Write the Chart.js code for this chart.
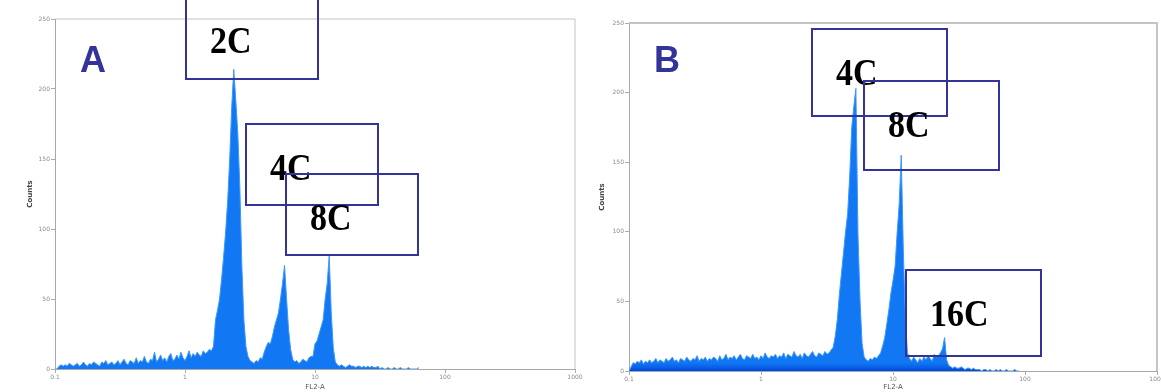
<!DOCTYPE html>
<html>
<head>
<meta charset="utf-8">
<script src="https://cdn.jsdelivr.net/npm/chart.js@4.4.1/dist/chart.umd.min.js"></script>
<style>
  html, body { margin: 0; padding: 0; background: #fff; }
  body { width: 1161px; height: 392px; position: relative; overflow: hidden; }
  .panel { position: absolute; top: 0; }
  #wrapA { left: 0; }
  #wrapB { left: 590px; }
</style>
</head>
<body>
<div class="panel" id="wrapA"><canvas id="chartA" width="590" height="392"></canvas></div>
<div class="panel" id="wrapB"><canvas id="chartB" width="571" height="392"></canvas></div>
<script>
// log channels: 64 channels per decade, 0.1 .. 1000
const decadeChannels = [0, 64, 128, 192, 256]
const xTickLabels = ['0.1', '1', '10', '100', '1000']
const yTickValues = [0, 50, 100, 150, 200, 250]

// panel A counts per channel
const countsA = [
  0, 0, 2, 3, 2, 3, 2, 4, 3, 2,
  3, 4, 2, 3, 5, 3, 2, 4, 3, 5,
  4, 3, 2, 5, 4, 6, 3, 4, 5, 3,
  4, 6, 3, 5, 7, 4, 3, 6, 5, 4,
  8, 4, 6, 5, 9, 5, 4, 7, 6, 12,
  5, 7, 10, 6, 8, 5, 9, 11, 6, 7,
  10, 7, 12, 8, 6, 9, 13, 8, 11, 9,
  12, 10, 9, 13, 11, 12, 14, 13, 16, 35,
  42, 50, 64, 80, 98, 120, 150, 187, 214, 192,
  168, 130, 73, 35, 16, 9, 6, 5, 4, 6,
  5, 8, 7, 12, 16, 19, 18, 23, 30, 35,
  40, 50, 61, 74, 50, 28, 14, 7, 5, 6,
  4, 5, 7, 6, 5, 8, 9, 9, 18, 20,
  25, 30, 35, 50, 61, 81, 40, 15, 5, 3,
  2, 3, 2, 1, 2, 3, 2, 2, 1, 2,
  2, 1, 2, 1, 2, 1, 2, 1, 1, 2,
  0, 1, 0, 0, 1, 0, 0, 1, 0, 0,
  1, 0, 0, 0, 1, 0, 0, 0, 0, 1
]

// panel B counts per channel
const countsB = [
  0, 3, 6, 5, 7, 6, 8, 5, 7, 6,
  8, 6, 7, 9, 6, 8, 7, 6, 9, 7,
  8, 10, 7, 8, 6, 9, 8, 7, 10, 8,
  7, 9, 8, 11, 7, 9, 8, 10, 7, 9,
  8, 10, 9, 7, 11, 8, 9, 12, 8, 10,
  9, 11, 8, 10, 12, 9, 8, 11, 10, 9,
  12, 9, 10, 8, 11, 9, 13, 10, 9, 11,
  10, 12, 9, 11, 10, 13, 9, 12, 11, 10,
  14, 11, 10, 12, 9, 13, 11, 10, 12, 14,
  11, 10, 13, 12, 11, 14, 12, 13, 15, 17,
  25, 37, 55, 70, 85, 100, 113, 140, 175, 190,
  203, 99, 51, 20, 10, 8, 7, 9, 8, 10,
  9, 11, 13, 18, 24, 34, 44, 56, 65, 75,
  99, 120, 155, 87, 37, 13, 9, 7, 10, 8,
  6, 9, 7, 10, 8, 11, 9, 7, 12, 10,
  11, 13, 16, 24, 8, 4, 3, 2, 3, 2,
  2, 3, 2, 1, 2, 2, 1, 2, 1, 1,
  1, 0, 1, 1, 0, 1, 0, 0, 1, 0,
  1, 0, 0, 1, 0, 0, 0, 1, 0, 0
]

// gates (channel range, count range)
const gateLabelsA = ['2C', '4C', '8C']
const gateChannelsA = [[64.5, 129.5], [94, 159], [113.7, 178.7]]
const gateCountsA = [[207, 285], [117, 175], [81.4, 139]]

const gateLabelsB = ['4C', '8C', '16C']
const gateChannelsB = [[88.7, 154.2], [113.9, 179.4], [134.3, 199.8]]
const gateCountsB = [[183.2, 245.7], [144.4, 208.3], [10.8, 72.6]]

const gateColor = '#33339a'

const gatesPlugin = {
  id: 'gates',
  afterDatasetsDraw (chart, args, opts) {
    const { ctx, scales: { x, y }, chartArea } = chart
    ctx.save()
    // frame top + right
    ctx.strokeStyle = '#c4c4c4'
    ctx.lineWidth = opts.frameWidth
    ctx.beginPath()
    ctx.moveTo(chartArea.left, chartArea.top)
    ctx.lineTo(chartArea.right, chartArea.top)
    ctx.lineTo(chartArea.right, chartArea.bottom)
    ctx.stroke()

    opts.labels.forEach((label, i) => {
      const l = x.getPixelForValue(opts.channels[i][0])
      const r = x.getPixelForValue(opts.channels[i][1])
      const t = y.getPixelForValue(opts.counts[i][1])
      const b = y.getPixelForValue(opts.counts[i][0])
      ctx.strokeStyle = gateColor
      ctx.lineWidth = 2
      ctx.strokeRect(Math.round(l), Math.round(t), Math.round(r - l), Math.round(b - t))
      const textTop = opts.counts[i][1] > 250 ? y.getPixelForValue(266) : t
      ctx.save()
      ctx.fillStyle = '#000'
      ctx.font = 'bold 34px "Liberation Serif", "Times New Roman", serif'
      ctx.textBaseline = 'alphabetic'
      ctx.translate(l + 24, textTop + 56)
      ctx.scale(1, 1.12)
      ctx.fillText(label, 0, 0)
      ctx.restore()
    })

    ctx.fillStyle = gateColor
    ctx.font = 'bold 36px "Liberation Sans", Arial, sans-serif'
    ctx.textBaseline = 'alphabetic'
    ctx.fillText(opts.letter, chartArea.left + 25, opts.letterY)
    ctx.restore()
  }
}

function makeChart (id, counts, gateOpts, layout) {
  const ctx = document.getElementById(id).getContext('2d')
  return new Chart(ctx, {
    type: 'line',
    data: {
      datasets: [{
        data: counts.map((c, i) => ({ x: i, y: c })),
        borderColor: '#3a98ff',
        borderWidth: 1,
        backgroundColor: (c) => {
          const area = c.chart.chartArea
          if (!area || !layout.darkBase) return '#1177f2'
          const g = c.chart.ctx.createLinearGradient(0, area.bottom, 0, area.bottom - 8)
          g.addColorStop(0, '#0046dc')
          g.addColorStop(0.45, '#0a5fe8')
          g.addColorStop(1, '#1177f2')
          return g
        },
        fill: 'origin',
        pointRadius: 0,
        tension: 0
      }]
    },
    options: {
      responsive: false,
      animation: false,
      devicePixelRatio: 1,
      layout: { padding: layout.padding },
      plugins: {
        legend: { display: false },
        tooltip: { enabled: false },
        gates: gateOpts
      },
      scales: {
        x: {
          type: 'linear',
          min: 0,
          max: 256,
          afterBuildTicks: s => { s.ticks = decadeChannels.map(v => ({ value: v })) },
          afterFit: s => { s.height = layout.xHeight; s.paddingRight = 0; s.paddingLeft = 0 },
          ticks: {
            autoSkip: false,
            maxRotation: 0,
            padding: 1,
            color: '#8a8a8a',
            font: { size: 6, family: 'DejaVu Sans' },
            callback: (v, i) => xTickLabels[i]
          },
          grid: { drawOnChartArea: false, tickLength: 4, color: '#aaa' },
          border: { color: '#a8a8a8', width: 1 },
          title: {
            display: true,
            text: 'FL2-A',
            color: '#555',
            font: { size: 7, family: 'DejaVu Sans' },
            padding: { top: 0, bottom: 1 }
          }
        },
        y: {
          min: 0,
          max: 250,
          afterBuildTicks: s => { s.ticks = yTickValues.map(v => ({ value: v })) },
          afterFit: s => { s.width = layout.yWidth },
          ticks: {
            padding: 1,
            color: '#8a8a8a',
            font: { size: 6, family: 'DejaVu Sans' }
          },
          grid: { drawOnChartArea: false, tickLength: 4, color: '#aaa' },
          border: { color: '#a8a8a8', width: 1 },
          title: {
            display: true,
            text: 'Counts',
            color: '#444',
            font: { size: 7, weight: 'bold', family: 'DejaVu Sans' },
            padding: { top: layout.yTitlePad, bottom: 0 }
          }
        }
      }
    },
    plugins: [gatesPlugin]
  })
}

makeChart('chartA', countsA, {
  labels: gateLabelsA, channels: gateChannelsA, counts: gateCountsA,
  letter: 'A', letterY: 72, frameWidth: 1
}, { padding: { left: 0, top: 19, right: 15, bottom: 0 }, xHeight: 23, yWidth: 55, yTitlePad: 26, darkBase: false })

makeChart('chartB', countsB, {
  labels: gateLabelsB, channels: gateChannelsB, counts: gateCountsB,
  letter: 'B', letterY: 72, frameWidth: 2
}, { padding: { left: 0, top: 23, right: 4, bottom: 0 }, xHeight: 21, yWidth: 39, yTitlePad: 8, darkBase: true })
</script>
</body>
</html>
